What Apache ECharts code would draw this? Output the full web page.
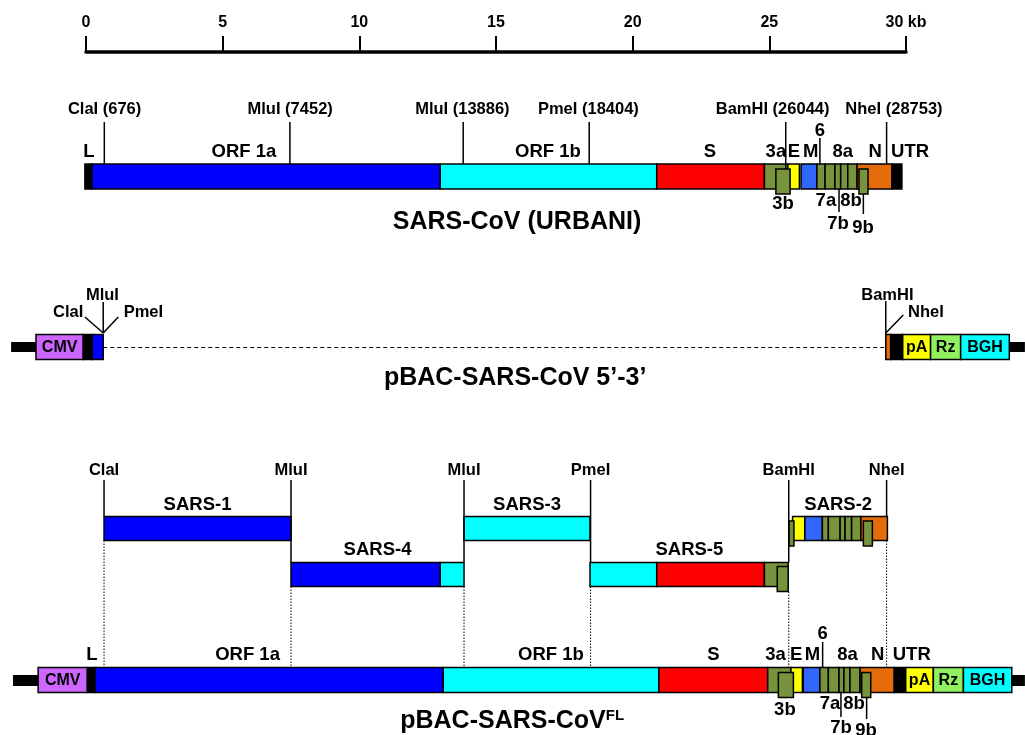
<!DOCTYPE html>
<html><head><meta charset="utf-8">
<script src="https://cdn.jsdelivr.net/npm/echarts@6/dist/echarts.min.js"></script>
<style>html,body{margin:0;padding:0;background:#fff}#c{width:1025px;height:735px}</style>
</head><body><div id="c"></div>
<script>
// ======================= DATA (kb, as drawn in the figure) =======================
const scaleTicks = [0, 5, 10, 15, 20, 25, 30];

const siteNames = ['ClaI', 'MluI', 'MluI', 'PmeI', 'BamHI', 'NheI'];
const siteNt    = [676, 7452, 13886, 18404, 26044, 28753];

// SARS-CoV (Urbani) genome map
const urbaniFeat  = ['L','ORF 1a','ORF 1b','S','3a','E','M','6','7a','7b','8a','8b','N','UTR'];
const urbaniStart = [-0.04, 0.22, 12.96, 20.88, 24.82, 25.68, 26.16, 26.74, 27.04, 27.40, 27.61, 27.87, 28.21, 29.49];
const urbaniEnd   = [0.22, 12.96, 20.88, 24.82, 25.68, 26.10, 26.74, 27.04, 27.40, 27.61, 27.87, 28.21, 29.49, 29.85];
const urbaniNestFeat  = ['3b', '9b'];
const urbaniNestStart = [25.24, 28.28];
const urbaniNestEnd   = [25.76, 28.61];
const urbaniSiteKb    = [0.67, 7.46, 13.80, 18.41, 25.60, 29.29];

// pBAC-SARS-CoV 5'-3'
const plasmidFeat  = ['flank','CMV','L','ORF 1a','gap','N','UTR','pA','Rz','BGH','flank'];
const plasmidStart = [-2.74, -1.83, -0.10, 0.23, 0.63, 29.26, 29.44, 29.88, 30.90, 32.00, 33.78];
const plasmidEnd   = [-1.83, -0.10, 0.23, 0.63, 29.26, 29.44, 29.88, 30.90, 32.00, 33.78, 34.35];
const plasmidSiteNames = ['ClaI', 'MluI', 'PmeI', 'BamHI', 'NheI'];
const plasmidSiteKb    = [0.63, 0.63, 0.63, 29.26, 29.26];

// Subgenomic fragments SARS-1 ... SARS-5
const fragNames = ['SARS-1', 'SARS-4', 'SARS-3', 'SARS-5', 'SARS-2'];
const fragFrom  = [0.66, 7.50, 13.83, 18.44, 25.72];
const fragTo    = [7.50, 13.83, 18.44, 25.71, 29.32];
const fragLane  = [0, 1, 0, 1, 0];
const fragPieceFeat  = ['ORF 1a','ORF 1a','ORF 1b','ORF 1b','ORF 1b','S','3a','E','M','6','7a','7b','8a','8b','N'];
const fragPieceStart = [0.66, 7.50, 12.96, 13.83, 18.44, 20.88, 24.82, 25.85, 26.30, 26.94, 27.16, 27.59, 27.77, 28.01, 28.35];
const fragPieceEnd   = [7.50, 12.96, 13.83, 18.44, 20.88, 24.82, 25.69, 26.30, 26.94, 27.16, 27.59, 27.77, 28.01, 28.35, 29.32];
const fragPieceLane  = [0, 1, 1, 0, 1, 1, 1, 0, 0, 0, 0, 0, 0, 0, 0];
const fragNestFeat  = ['3b', '3b', '9b'];
const fragNestStart = [25.29, 25.72, 28.44];
const fragNestEnd   = [25.69, 25.90, 28.77];
const fragNestLane  = [1, 0, 0];
const fragSiteKb    = [0.66, 7.50, 13.83, 18.46, 25.71, 29.29];

// pBAC-SARS-CoV FL
const flFeat  = ['flank','CMV','L','ORF 1a','ORF 1b','S','3a','E','M','6','7a','7b','8a','8b','N','UTR','pA','Rz','BGH','flank'];
const flStart = [-2.67, -1.75, 0.05, 0.33, 13.07, 20.96, 24.94, 25.79, 26.24, 26.85, 27.16, 27.55, 27.73, 27.95, 28.32, 29.57, 29.99, 31.00, 32.10, 33.87];
const flEnd   = [-1.75, 0.05, 0.33, 13.07, 20.96, 24.94, 25.79, 26.21, 26.85, 27.16, 27.55, 27.73, 27.95, 28.32, 29.57, 29.99, 31.00, 32.10, 33.87, 34.35];
const flNestFeat  = ['3b', '9b'];
const flNestStart = [25.33, 28.38];
const flNestEnd   = [25.88, 28.71];

// ======================= STYLE =======================
const GREEN = '#77933c';
const COLOR = {
  'L':'#000000', 'UTR':'#000000', 'flank':'#000000',
  'ORF 1a':'#0000ff', 'ORF 1b':'#00ffff', 'S':'#ff0000',
  '3a':GREEN, '3b':GREEN, '6':GREEN, '7a':GREEN, '7b':GREEN, '8a':GREEN, '8b':GREEN, '9b':GREEN,
  'E':'#ffff00', 'M':'#3366ff', 'N':'#e46c0a',
  'CMV':'#cc66ff', 'pA':'#ffff00', 'Rz':'#8ff060', 'BGH':'#00ffff'
};
const BOX_LABELS = {'CMV':1, 'pA':1, 'Rz':1, 'BGH':1};
const FONT = '"Liberation Sans", Arial, Helvetica, sans-serif';
const SITE_FS = 16.5, GENE_FS = 18.5, BOX_FS = 16, TITLE_FS = 25;

// ======================= LAYOUT (vertical rows, label placement) =======================
const L_URB = { top:164, bot:189, nTop:169, nBot:194, labY:152, siteLabY:109, siteTop:122,
  above:['L','ORF 1a','ORF 1b','S','3a','E','M','8a','N','UTR'],
  aboveX:[0.11, 5.78, 16.90, 22.83, 25.24, 25.90, 26.51, 27.69, 28.87, 30.15],
  siteLabX:[0.68, 7.47, 13.77, 18.38, 25.12, 29.56],
  six:{x:26.85, labY:131, y0:138},
  below:[{t:'3b',x:25.50,y:204},{t:'7a',x:27.07,y:201},{t:'8b',x:27.99,y:201},{t:'7b',x:27.51,y:224},{t:'9b',x:28.43,y:228}],
  belowLines:[{x:27.55,y0:189,y1:212},{x:28.44,y0:194,y1:214}],
  title:{x:15.77, y:222}
};
const L_PLA = { top:334.5, bot:359.5, fTop:342, fBot:352, mid:347.5,
  labels:[{x:-0.65,y:312},{x:0.60,y:295},{x:2.10,y:312},{x:29.32,y:295},{x:30.73,y:312}],
  lineFrom:[333,333,333,334,333],
  lineTo:[{x:-0.04,y:317},{x:0.63,y:302},{x:1.18,y:317},{x:29.26,y:301},{x:29.90,y:315}],
  title:{x:15.70, y:378}
};
const L_FRAG = { laneTop:[516.5, 562.5], laneBot:[540.5, 586.5], nestTop:[521, 566.5], nestBot:[546, 591.5],
  nameY:[505, 550], siteLabY:470.5, siteTop:480,
  siteLineEnd:[516.5, 562.5, 562.5, 562.5, 562.5, 516.5],
  dotFrom:[540.5, 586.5, 586.5, 586.5, 591.5, 540.5]
};
const L_FL = { top:667.5, bot:692.5, nTop:672.5, nBot:697.5, fTop:675, fBot:686, labY:655,
  above:['L','ORF 1a','ORF 1b','S','3a','E','M','8a','N','UTR'],
  aboveX:[0.22, 5.91, 17.01, 22.95, 25.23, 25.98, 26.58, 27.86, 28.96, 30.21],
  six:{x:26.95, labY:634, y0:642},
  below:[{t:'3b',x:25.57,y:710},{t:'7a',x:27.22,y:704},{t:'8b',x:28.10,y:704},{t:'7b',x:27.62,y:727.5},{t:'9b',x:28.54,y:731}],
  belowLines:[{x:27.62,y0:692.5,y1:717},{x:28.56,y0:697.5,y1:719}],
  title:{x:15.59, y:721}
};

// ======================= BUILD PRIMITIVES =======================
const items = [];
const rect = (x0, x1, y0, y1, fill, o) => items.push(Object.assign({k:'rect', v:[x0, y0, x1, y1], fill}, o || {}));
const line = (x0, y0, x1, y1, o) => items.push(Object.assign({k:'line', v:[x0, y0, x1, y1]}, o || {}));
const text = (x, y, t, size, o) => items.push(Object.assign({k:'text', v:[x, y, x, y], t, size}, o || {}));

function track(feat, st, en, L) {
  feat.forEach((f, i) => {
    if (f === 'flank') rect(st[i], en[i], L.fTop, L.fBot, '#000', {stroke:null});
    else if (f === 'gap') line(st[i], L.mid, en[i], L.mid, {lw:1, dash:[4, 3]});
    else rect(st[i], en[i], L.top, L.bot, COLOR[f]);
  });
  feat.forEach((f, i) => { if (BOX_LABELS[f]) text((st[i] + en[i]) / 2, (L.top + L.bot) / 2 + 0.5, f, BOX_FS); });
}
function nests(feat, st, en, L) {
  feat.forEach((f, i) => rect(st[i], en[i], L.nTop, L.nBot, COLOR[f]));
}
function geneLabels(L) {
  L.above.forEach((t, i) => text(L.aboveX[i], L.labY, t, GENE_FS));
  text(L.six.x, L.six.labY, '6', GENE_FS);
  line(L.six.x, L.six.y0, L.six.x, L.top);
  L.below.forEach(b => text(b.x, b.y, b.t, GENE_FS));
  L.belowLines.forEach(b => line(b.x, b.y0, b.x, b.y1));
}

// --- SARS-CoV (Urbani)
track(urbaniFeat, urbaniStart, urbaniEnd, L_URB);
nests(urbaniNestFeat, urbaniNestStart, urbaniNestEnd, L_URB);
geneLabels(L_URB);
siteNames.forEach((n, i) => {
  const bottom = (n === 'BamHI') ? L_URB.nTop : L_URB.top;
  line(urbaniSiteKb[i], L_URB.siteTop, urbaniSiteKb[i], bottom);
  text(L_URB.siteLabX[i], L_URB.siteLabY, n + ' (' + siteNt[i] + ')', SITE_FS);
});
text(L_URB.title.x, L_URB.title.y, 'SARS-CoV (URBANI)', TITLE_FS);

// --- pBAC-SARS-CoV 5'-3'
track(plasmidFeat, plasmidStart, plasmidEnd, L_PLA);
plasmidSiteNames.forEach((n, i) => {
  line(plasmidSiteKb[i], L_PLA.lineFrom[i], L_PLA.lineTo[i].x, L_PLA.lineTo[i].y);
  text(L_PLA.labels[i].x, L_PLA.labels[i].y, n, SITE_FS);
});
text(L_PLA.title.x, L_PLA.title.y, 'pBAC-SARS-CoV 5\u2019-3\u2019', TITLE_FS);

// --- fragments
fragPieceFeat.forEach((f, i) => rect(fragPieceStart[i], fragPieceEnd[i], L_FRAG.laneTop[fragPieceLane[i]], L_FRAG.laneBot[fragPieceLane[i]], COLOR[f]));
fragNestFeat.forEach((f, i) => rect(fragNestStart[i], fragNestEnd[i], L_FRAG.nestTop[fragNestLane[i]], L_FRAG.nestBot[fragNestLane[i]], COLOR[f]));
fragNames.forEach((n, i) => text((fragFrom[i] + fragTo[i]) / 2, L_FRAG.nameY[fragLane[i]], n, GENE_FS));
siteNames.forEach((n, i) => {
  line(fragSiteKb[i], L_FRAG.siteTop, fragSiteKb[i], L_FRAG.siteLineEnd[i]);
  text(fragSiteKb[i], L_FRAG.siteLabY, n, SITE_FS);
  line(fragSiteKb[i], L_FRAG.dotFrom[i], fragSiteKb[i], L_FL.top, {lw:1, dash:[1.5, 1.5]});
});

// --- pBAC-SARS-CoV FL
track(flFeat, flStart, flEnd, L_FL);
nests(flNestFeat, flNestStart, flNestEnd, L_FL);
geneLabels(L_FL);
text(L_FL.title.x, L_FL.title.y, '{a|pBAC-SARS-CoV}{b|FL}', TITLE_FS, {rich:{
  a:{font:'bold 25px ' + FONT, fill:'#000'},
  b:{font:'bold 15px ' + FONT, fill:'#000', verticalAlign:'top'}
}});

// ======================= CHART =======================
function renderItem(params, api) {
  const it = items[params.dataIndex];
  const a = api.coord([api.value(0), api.value(1)]);
  const b = api.coord([api.value(2), api.value(3)]);
  const z2 = params.dataIndex;
  if (it.k === 'rect') {
    return {type:'rect', z2, shape:{x:a[0], y:a[1], width:b[0] - a[0], height:b[1] - a[1]},
      style:{fill:it.fill, stroke:it.stroke === undefined ? '#000' : it.stroke, lineWidth:1.5}};
  }
  if (it.k === 'line') {
    return {type:'line', z2, shape:{x1:a[0], y1:a[1], x2:b[0], y2:b[1]},
      style:{stroke:'#000', lineWidth:it.lw || 1.5, lineDash:it.dash || null}};
  }
  return {type:'text', z2, x:a[0], y:a[1],
    style:{text:it.t, font:'bold ' + it.size + 'px ' + FONT, fill:'#000', align:'center', verticalAlign:'middle', rich:it.rich}};
}

const chart = echarts.init(document.getElementById('c'), null, {renderer:'canvas'});
chart.setOption({
  animation:false,
  backgroundColor:'#ffffff',
  grid:[
    {left:86, right:119, top:51, height:1},
    {left:86, right:119, top:0, bottom:0}
  ],
  xAxis:[
    {gridIndex:0, type:'value', position:'top', min:scaleTicks[0], max:scaleTicks[scaleTicks.length - 1],
      interval:scaleTicks[1] - scaleTicks[0],
      axisLine:{show:true, lineStyle:{color:'#000', width:3.5}},
      axisTick:{show:true, inside:false, length:16, lineStyle:{color:'#000', width:2}},
      axisLabel:{show:true, margin:20, color:'#000', fontFamily:'Liberation Sans', fontWeight:'bold', fontSize:16,
        formatter:v => v === 30 ? '30 kb' : String(v)},
      splitLine:{show:false}},
    {gridIndex:1, type:'value', min:0, max:30, show:false}
  ],
  yAxis:[
    {gridIndex:0, type:'value', min:0, max:1, show:false},
    {gridIndex:1, type:'value', min:0, max:735, inverse:true, show:false}
  ],
  series:[
    {type:'custom', xAxisIndex:0, yAxisIndex:0, data:[], renderItem:() => null},
    {type:'custom', xAxisIndex:1, yAxisIndex:1, silent:true, clip:false,
      encode:{x:[0, 2], y:[1, 3]}, data:items.map(it => it.v), renderItem}
  ]
});
</script>
</body></html>
